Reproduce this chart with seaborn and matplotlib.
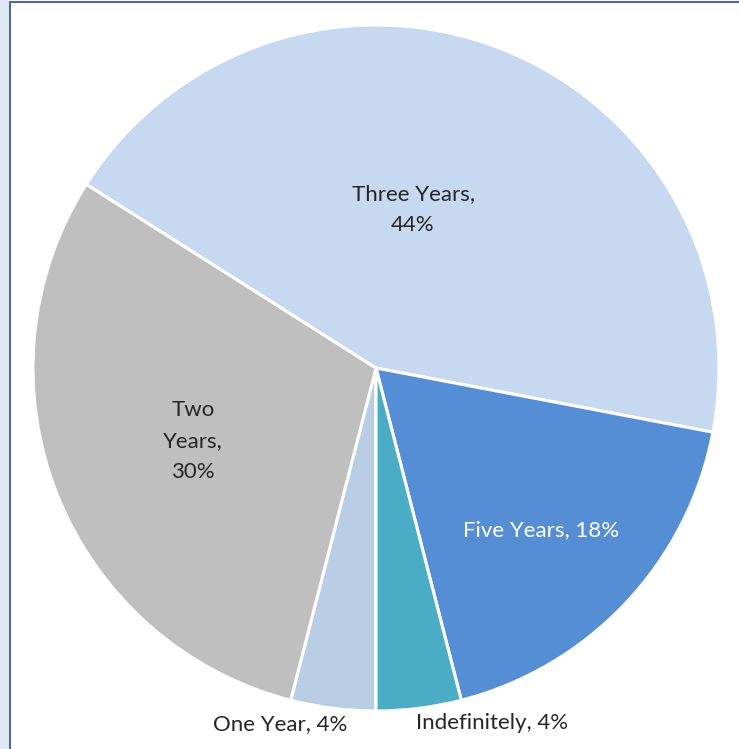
import matplotlib
matplotlib.use("Agg")
import matplotlib.pyplot as plt
import seaborn as sns
from matplotlib.patches import Rectangle

# data (clockwise from 6 o'clock)
labels = ["One Year", "Two Years", "Three Years", "Five Years", "Indefinitely"]
shares = [4, 30, 44, 18, 4]
colors = ["#b9cde5", "#bfbfbf", "#c6d9f1", "#558ed5", "#4bacc6"]
label_text = ["One Year, 4%", "Two\nYears,\n30%", "Three Years,\n44%",
              "Five Years, 18%", "Indefinitely, 4%"]
label_pos = [(-0.280, -1.038), (-0.534, -0.213), (0.108, 0.461),
             (0.481, -0.472), (0.338, -1.035)]
label_color = ["#262626", "#262626", "#262626", "white", "#262626"]

sns.set_style("white")
plt.rcParams['font.family'] = ['Lato', 'DejaVu Sans']

W, H = 739, 749
fig = plt.figure(figsize=(W / 100, H / 100), dpi=100)
ax = fig.add_axes([0, 0, 1, 1])

cx, cy, r = 376, 368, 343
ax.pie(shares, colors=colors, startangle=-90, counterclock=False, radius=1,
       wedgeprops=dict(edgecolor="white", linewidth=2.2))
ax.set_xlim(-cx / r, (W - cx) / r)
ax.set_ylim(-(H - cy) / r, cy / r)
ax.set_aspect("auto")
ax.axis("off")

for txt, (x, y), c in zip(label_text, label_pos, label_color):
    ax.text(x, y, txt, ha="center", va="center", color=c, fontsize=16,
            linespacing=1.7)

# chart frame (left edge and top edge of the Excel chart area)
fig.patches.append(Rectangle((0, 0), 9 / W, 1, transform=fig.transFigure,
                             facecolor="#dfe9f5", edgecolor="none", zorder=-1))
fig.add_artist(plt.Line2D([9.5 / W, 9.5 / W], [0, 1 - 1.5 / H],
                          transform=fig.transFigure, color="#4f6a94", lw=1.5))
fig.add_artist(plt.Line2D([9.5 / W, 1], [1 - 1.5 / H, 1 - 1.5 / H],
                          transform=fig.transFigure, color="#4f6a94", lw=1.5))

fig.savefig("out.png", dpi=100)
